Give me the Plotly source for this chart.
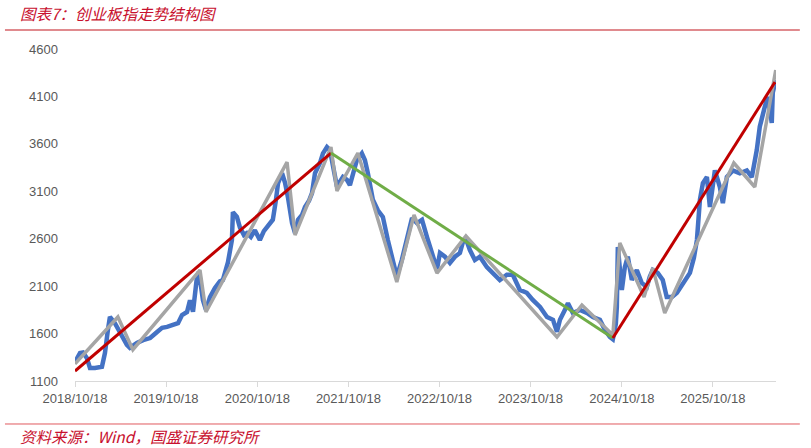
import plotly.graph_objects as go

# ---- data ----
index_dates = [
    "2018-10-18", "2018-11-07", "2018-11-19", "2018-12-05", "2018-12-17", "2019-01-06",
    "2019-02-03", "2019-02-15", "2019-02-27", "2019-03-07", "2019-03-27", "2019-04-16",
    "2019-05-14", "2019-05-26", "2019-06-23", "2019-07-18", "2019-08-15", "2019-09-12",
    "2019-10-02", "2019-10-22", "2019-11-15", "2019-12-05", "2019-12-21", "2020-01-10",
    "2020-01-22", "2020-02-03", "2020-02-19", "2020-02-27", "2020-03-14", "2020-03-26",
    "2020-04-11", "2020-05-01", "2020-05-21", "2020-06-02", "2020-06-22", "2020-07-08",
    "2020-07-12", "2020-07-28", "2020-08-09", "2020-08-25", "2020-09-06", "2020-09-22",
    "2020-10-08", "2020-10-28", "2020-11-13", "2020-11-25", "2020-12-19", "2020-12-31",
    "2021-01-09", "2021-01-25", "2021-02-06", "2021-02-18", "2021-03-06", "2021-03-18",
    "2021-03-30", "2021-04-15", "2021-04-27", "2021-05-13", "2021-05-25", "2021-06-06",
    "2021-06-26", "2021-07-08", "2021-07-24", "2021-08-05", "2021-08-17", "2021-09-02",
    "2021-09-26", "2021-10-12", "2021-10-24", "2021-11-09", "2021-11-21", "2021-12-11",
    "2021-12-23", "2022-01-04", "2022-01-24", "2022-02-13", "2022-03-05", "2022-03-25",
    "2022-04-14", "2022-04-30", "2022-05-20", "2022-06-09", "2022-06-30", "2022-07-20",
    "2022-08-09", "2022-08-29", "2022-09-18", "2022-10-08", "2022-10-20", "2022-11-09",
    "2022-11-29", "2022-12-19", "2023-01-08", "2023-01-20", "2023-02-01", "2023-02-17",
    "2023-03-09", "2023-03-29", "2023-04-26", "2023-05-20", "2023-06-17", "2023-07-15",
    "2023-08-08", "2023-09-05", "2023-10-03", "2023-10-27", "2023-11-25", "2023-12-23",
    "2024-01-16", "2024-02-01", "2024-02-13", "2024-03-04", "2024-03-16", "2024-04-05",
    "2024-05-03", "2024-05-31", "2024-06-24", "2024-07-22", "2024-08-11", "2024-08-31",
    "2024-09-12", "2024-09-24", "2024-09-28", "2024-10-02", "2024-10-10", "2024-10-18",
    "2024-10-30", "2024-11-11", "2024-11-27", "2024-12-17", "2025-01-06", "2025-01-26",
    "2025-02-07", "2025-02-19", "2025-03-11", "2025-03-31", "2025-04-16", "2025-05-07",
    "2025-05-27", "2025-06-20", "2025-07-18", "2025-08-03", "2025-08-15", "2025-08-27",
    "2025-09-08", "2025-09-24", "2025-10-06", "2025-10-26", "2025-11-15", "2025-11-27",
    "2025-12-13", "2026-01-06", "2026-02-03", "2026-03-03", "2026-03-23", "2026-04-12",
    "2026-04-24", "2026-05-14", "2026-05-26", "2026-06-11", "2026-06-15", "2026-06-27",
]
index_values = [
    1300, 1395, 1400, 1340, 1237, 1237,
    1250, 1395, 1640, 1775, 1710, 1605,
    1480, 1450, 1500, 1530, 1553, 1617,
    1660, 1670, 1690, 1710, 1795, 1827,
    1950, 1830, 2200, 2250, 1950, 1850,
    1985, 2080, 2150, 2165, 2350, 2586,
    2880, 2830, 2720, 2640, 2660, 2620,
    2690, 2586, 2680, 2720, 2800, 3000,
    3187, 3290, 3190, 3030, 2765, 2660,
    2800, 2850, 2935, 3000, 3080, 3290,
    3400, 3500, 3566, 3535, 3355, 3150,
    3250, 3220, 3165, 3300, 3430, 3500,
    3430, 3290, 3010, 2900, 2830, 2586,
    2375, 2200, 2375, 2618, 2818, 2765,
    2800, 2618, 2450, 2280, 2450, 2410,
    2345, 2410, 2450, 2565, 2600, 2480,
    2375, 2410, 2300, 2240, 2165, 2220,
    2220, 2060, 2030, 1955, 1880, 1775,
    1745, 1620, 1745, 1850, 1920, 1817,
    1850, 1817, 1775, 1745, 1640, 1565,
    1540, 1700, 1880, 2512, 2300, 2060,
    2300, 2410, 2165, 2270, 2133, 2090,
    2200, 2270, 2240, 2165, 1985, 1985,
    2030, 2133, 2240, 2400, 2586, 3010,
    3187, 3250, 2935, 3320, 3145, 2975,
    3250, 3320, 3290, 3320, 3250, 3535,
    3780, 3990, 4095, 3820, 4140, 4275,
]

zigzag_dates = [
    "2018-10-18", "2019-04-08", "2019-06-07", "2020-03-02", "2020-03-26", "2021-02-14",
    "2021-03-18", "2021-08-09", "2021-09-02", "2021-11-25", "2022-04-30", "2022-07-08",
    "2022-10-08", "2023-02-01", "2024-02-01", "2024-05-11", "2024-09-12", "2024-10-10",
    "2025-01-15", "2025-02-19", "2025-04-08", "2026-01-10", "2026-04-04", "2026-06-27",
]
zigzag_values = [
    1280, 1775, 1430, 2270, 1827, 3408,
    2639, 3566, 3103, 3503, 2143, 2850,
    2238, 2628, 1564, 1901, 1585, 2555,
    1985, 2290, 1817, 3398, 3145, 4378,
]

up1_dates = ["2018-10-18", "2021-08-09"]
up1_values = [1205, 3503]
down_dates = ["2021-08-09", "2024-09-12"]
down_values = [3503, 1553]
up2_dates = ["2024-09-12", "2026-06-24"]
up2_values = [1553, 4251]

tick_dates = ["2018-10-18", "2019-10-18", "2020-10-18", "2021-10-18",
              "2022-10-18", "2023-10-18", "2024-10-18", "2025-10-18"]
tick_labels = ["2018/10/18", "2019/10/18", "2020/10/18", "2021/10/18",
               "2022/10/18", "2023/10/18", "2024/10/18", "2025/10/18"]
y_ticks = [1100, 1600, 2100, 2600, 3100, 3600, 4100, 4600]

title_text = "图表7：创业板指走势结构图"
source_text = "资料来源：Wind，国盛证券研究所"

# ---- figure ----
fig = go.Figure()
fig.add_trace(go.Scatter(x=index_dates, y=index_values, mode="lines",
                         line=dict(color="#4472C4", width=4.5), showlegend=False))
fig.add_trace(go.Scatter(x=zigzag_dates, y=zigzag_values, mode="lines",
                         line=dict(color="#A5A5A5", width=3.5), showlegend=False))
fig.add_trace(go.Scatter(x=up1_dates, y=up1_values, mode="lines",
                         line=dict(color="#C00000", width=3), showlegend=False))
fig.add_trace(go.Scatter(x=down_dates, y=down_values, mode="lines",
                         line=dict(color="#70AD47", width=3), showlegend=False))
fig.add_trace(go.Scatter(x=up2_dates, y=up2_values, mode="lines",
                         line=dict(color="#C00000", width=3), showlegend=False))

tick_font = dict(family="Liberation Sans, Arial, sans-serif", size=13, color="#595959")

fig.update_layout(
    width=811, height=448,
    margin=dict(l=75, r=35, t=49, b=67),
    paper_bgcolor="white", plot_bgcolor="white",
    xaxis=dict(
        type="date",
        range=["2018-10-18", "2026-06-28"],
        tickmode="array", tickvals=tick_dates, ticktext=tick_labels,
        showgrid=False, zeroline=False,
        showline=True, linecolor="#D9D9D9", linewidth=1,
        ticks="outside", ticklen=5, tickcolor="#D9D9D9",
        tickfont=tick_font,
    ),
    yaxis=dict(
        range=[1100, 4600],
        tickmode="array", tickvals=y_ticks,
        showgrid=False, zeroline=False, showline=False,
        ticks="", ticklabelstandoff=16,
        tickfont=tick_font,
    ),
    shapes=[
        dict(type="line", xref="paper", yref="paper",
             x0=-0.0999, x1=1.034, y0=1.057, y1=1.057,
             line=dict(color="#E08A8E", width=2)),
        dict(type="line", xref="paper", yref="paper",
             x0=-0.0999, x1=1.034, y0=-0.1295, y1=-0.1295,
             line=dict(color="#E05A5F", width=1)),
    ],
    annotations=[
        dict(text=title_text, xref="paper", yref="paper",
             x=-0.082, y=1.108, xanchor="left", yanchor="middle", showarrow=False,
             font=dict(family="Noto Sans CJK SC, sans-serif", size=15.5,
                       color="#C8102E", style="italic")),
        dict(text=source_text, xref="paper", yref="paper",
             x=-0.082, y=-0.166, xanchor="left", yanchor="middle", showarrow=False,
             font=dict(family="Noto Sans CJK SC, sans-serif", size=15.5,
                       color="#C8102E", style="italic")),
    ],
)

fig.write_html("out.html")
